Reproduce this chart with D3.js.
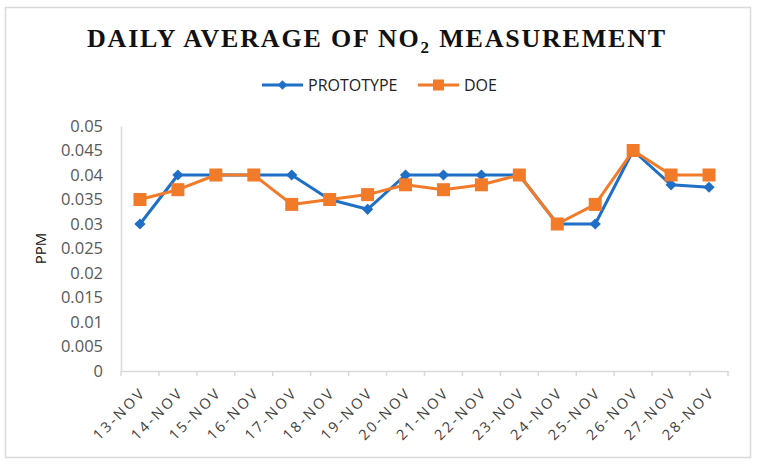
<!DOCTYPE html>
<html>
<head>
<meta charset="utf-8">
<script src="https://cdn.jsdelivr.net/npm/d3@7"></script>
<style>
  body { margin: 0; background: #fff; }
  svg { display: block; }
</style>
</head>
<body>
<svg id="chart"></svg>
<script>
const days = ["13-NOV", "14-NOV", "15-NOV", "16-NOV", "17-NOV", "18-NOV", "19-NOV", "20-NOV",
              "21-NOV", "22-NOV", "23-NOV", "24-NOV", "25-NOV", "26-NOV", "27-NOV", "28-NOV"]
const prototype = [0.030, 0.040, 0.040, 0.040, 0.040, 0.035, 0.033, 0.040,
                   0.040, 0.040, 0.040, 0.030, 0.030, 0.045, 0.038, 0.0375]
const doe = [0.035, 0.037, 0.040, 0.040, 0.034, 0.035, 0.036, 0.038,
             0.037, 0.038, 0.040, 0.030, 0.034, 0.045, 0.040, 0.040]
const yTicks = [0, 0.005, 0.01, 0.015, 0.02, 0.025, 0.03, 0.035, 0.04, 0.045, 0.05]

const width = 761, height = 467
const margin = { top: 126, right: 33, bottom: 96, left: 121 }

const blue = '#1f6fc6'
const orange = '#f27b2a'

const svg = d3.select('#chart')
    .attr('width', width)
    .attr('height', height)

// chart frame
svg.append('rect')
    .attr('x', 5.5).attr('y', 7.5)
    .attr('width', 745).attr('height', 450)
    .attr('fill', 'none')
    .attr('stroke', '#d9d9d9')
    .attr('stroke-width', 1.5)

// title
const title = svg.append('text')
    .attr('x', 377)
    .attr('y', 47)
    .attr('text-anchor', 'middle')
    .attr('font-family', '"Liberation Serif", "Times New Roman", serif')
    .attr('font-weight', 'bold')
    .attr('font-size', '26px')
    .attr('letter-spacing', '1.8px')
    .attr('fill', '#111')
title.append('tspan').text('DAILY AVERAGE OF NO')
title.append('tspan').text('2').attr('font-size', '17px').attr('dy', 6)
title.append('tspan').text(' MEASUREMENT').attr('dy', -6)

const x = d3.scaleBand()
    .domain(days)
    .range([margin.left, width - margin.right])

const y = d3.scaleLinear()
    .domain([0, 0.05])
    .range([height - margin.bottom, margin.top])

// y axis
const yAxis = svg.append('g')
    .attr('transform', 'translate(' + margin.left + ',0)')
    .call(d3.axisLeft(y).tickValues(yTicks).tickSize(0).tickPadding(18)
        .tickFormat(d => d3.format('')(+d.toFixed(3))))
yAxis.select('.domain').attr('stroke', '#d9d9d9').attr('stroke-width', 1.5)
yAxis.selectAll('text')
    .attr('font-family', '"Open Sans", sans-serif')
    .attr('font-size', '16.5px')
    .attr('fill', '#595959')

// x axis
const xAxis = svg.append('g')
    .attr('transform', 'translate(0,' + y(0) + ')')
    .call(d3.axisBottom(x).tickSize(0).tickFormat(''))
xAxis.select('.domain').attr('stroke', '#d9d9d9').attr('stroke-width', 1.5)

svg.append('g')
    .selectAll('line')
    .data(days.concat(['end']))
    .join('line')
    .attr('x1', (d, i) => margin.left + i * x.step())
    .attr('x2', (d, i) => margin.left + i * x.step())
    .attr('y1', y(0))
    .attr('y2', y(0) + 5)
    .attr('stroke', '#d9d9d9')
    .attr('stroke-width', 1.5)

svg.append('g')
    .selectAll('text')
    .data(days)
    .join('text')
    .attr('transform', d => 'translate(' + (x(d) + x.bandwidth() / 2 + 3) + ',' + (y(0) + 19) + ') rotate(-45)')
    .attr('text-anchor', 'end')
    .attr('dy', '0.35em')
    .attr('font-family', '"Open Sans", sans-serif')
    .attr('font-size', '14.5px')
    .attr('letter-spacing', '2.5px')
    .attr('fill', '#404040')
    .text(d => d)

// y axis title
svg.append('text')
    .attr('transform', 'translate(46,' + ((y(0) + y(0.05)) / 2) + ') rotate(-90)')
    .attr('text-anchor', 'middle')
    .attr('font-family', '"Open Sans", sans-serif')
    .attr('font-size', '15px')
    .attr('fill', '#111')
    .text('PPM')

const cx = (d, i) => x(days[i]) + x.bandwidth() / 2

const line = d3.line()
    .x((d, i) => cx(d, i))
    .y(d => y(d))

// series
svg.append('path')
    .datum(prototype)
    .attr('fill', 'none')
    .attr('stroke', blue)
    .attr('stroke-width', 3)
    .attr('stroke-linejoin', 'round')
    .attr('d', line)

svg.append('g')
    .selectAll('path')
    .data(prototype)
    .join('path')
    .attr('d', d3.symbol(d3.symbolDiamond2, 80))
    .attr('transform', (d, i) => 'translate(' + cx(d, i) + ',' + y(d) + ')')
    .attr('fill', blue)

svg.append('path')
    .datum(doe)
    .attr('fill', 'none')
    .attr('stroke', orange)
    .attr('stroke-width', 3)
    .attr('stroke-linejoin', 'round')
    .attr('d', line)

svg.append('g')
    .selectAll('rect')
    .data(doe)
    .join('rect')
    .attr('x', (d, i) => cx(d, i) - 6.5)
    .attr('y', d => y(d) - 6.5)
    .attr('width', 13)
    .attr('height', 13)
    .attr('fill', orange)

// legend
const legend = [
    { name: 'PROTOTYPE', color: blue, x0: 262 },
    { name: 'DOE', color: orange, x0: 418 }
]
const leg = svg.append('g')
legend.forEach(l => {
    leg.append('line')
        .attr('x1', l.x0).attr('x2', l.x0 + 41)
        .attr('y1', 85).attr('y2', 85)
        .attr('stroke', l.color)
        .attr('stroke-width', 3)
    if (l.name === 'PROTOTYPE') {
        leg.append('path')
            .attr('d', d3.symbol(d3.symbolDiamond2, 60))
            .attr('transform', 'translate(' + (l.x0 + 20.5) + ',85)')
            .attr('fill', l.color)
    } else {
        leg.append('rect')
            .attr('x', l.x0 + 15).attr('y', 79.5)
            .attr('width', 11).attr('height', 11)
            .attr('fill', l.color)
    }
    leg.append('text')
        .attr('x', l.x0 + 46)
        .attr('y', 85)
        .attr('dy', '0.36em')
        .attr('font-family', '"Open Sans", sans-serif')
        .attr('font-size', '16px')
        .attr('fill', '#222')
        .text(l.name)
})
</script>
</body>
</html>
